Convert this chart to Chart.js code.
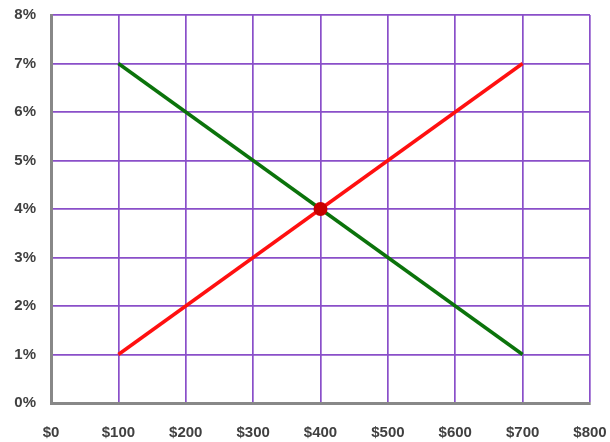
<!DOCTYPE html>
<html>
<head>
<meta charset="utf-8">
<script src="https://cdn.jsdelivr.net/npm/chart.js@4"></script>
<style>
html,body{margin:0;padding:0;background:#fff;}
#wrap{width:610px;height:442px;position:relative;}
</style>
</head>
<body>
<div id="wrap"><canvas id="c" width="610" height="442"></canvas></div>
<script>
const xPoints = [100, 700];
const greenValues = [7, 1];
const redValues = [1, 7];
const intersectionX = [400];
const intersectionY = [4];
const xTicks = [0, 100, 200, 300, 400, 500, 600, 700, 800];
const yTicks = [0, 1, 2, 3, 4, 5, 6, 7, 8];

const toPts = (xs, ys) => xs.map((x, i) => ({x: x, y: ys[i]}));
const font = {family: '"Liberation Sans Narrow", "Liberation Sans", sans-serif', size: 15, weight: 'bold'};

new Chart(document.getElementById('c'), {
  type: 'line',
  data: {
    datasets: [
      {data: toPts(xPoints, greenValues), borderColor: '#0b730b', borderWidth: 3.5, pointRadius: 0, fill: false, order: 3},
      {data: toPts(xPoints, redValues), borderColor: '#ff1010', borderWidth: 3.5, pointRadius: 0, fill: false, order: 2},
      {data: toPts(intersectionX, intersectionY), showLine: false, pointRadius: 7, pointBackgroundColor: '#c80000', pointBorderColor: '#c80000', pointBorderWidth: 0, order: 1}
    ]
  },
  options: {
    responsive: false,
    animation: false,
    plugins: {legend: {display: false}, tooltip: {enabled: false}},
    layout: {padding: {top: 15, right: 20, left: 0, bottom: 0}},
    scales: {
      x: {
        type: 'linear', min: 0, max: 800,
        afterBuildTicks: a => { a.ticks = xTicks.map(v => ({value: v})); },
        afterFit: a => { a.height = 39; a.paddingLeft = 0; a.paddingRight = 0; },
        ticks: {callback: v => '$' + v, color: '#404040', font: font, padding: 21, maxRotation: 0, autoSkip: false},
        grid: {color: '#8a4fc9', lineWidth: 1.7, drawTicks: false},
        border: {color: '#888888', width: 3}
      },
      y: {
        type: 'linear', min: 0, max: 8,
        afterBuildTicks: a => { a.ticks = yTicks.map(v => ({value: v})); },
        afterFit: a => { a.width = 51; a.paddingTop = 0; a.paddingBottom = 0; },
        ticks: {callback: v => v + '%', color: '#404040', font: font, padding: 15},
        grid: {color: '#8a4fc9', lineWidth: 1.7, drawTicks: false},
        border: {color: '#888888', width: 3}
      }
    }
  }
});
</script>
</body>
</html>
